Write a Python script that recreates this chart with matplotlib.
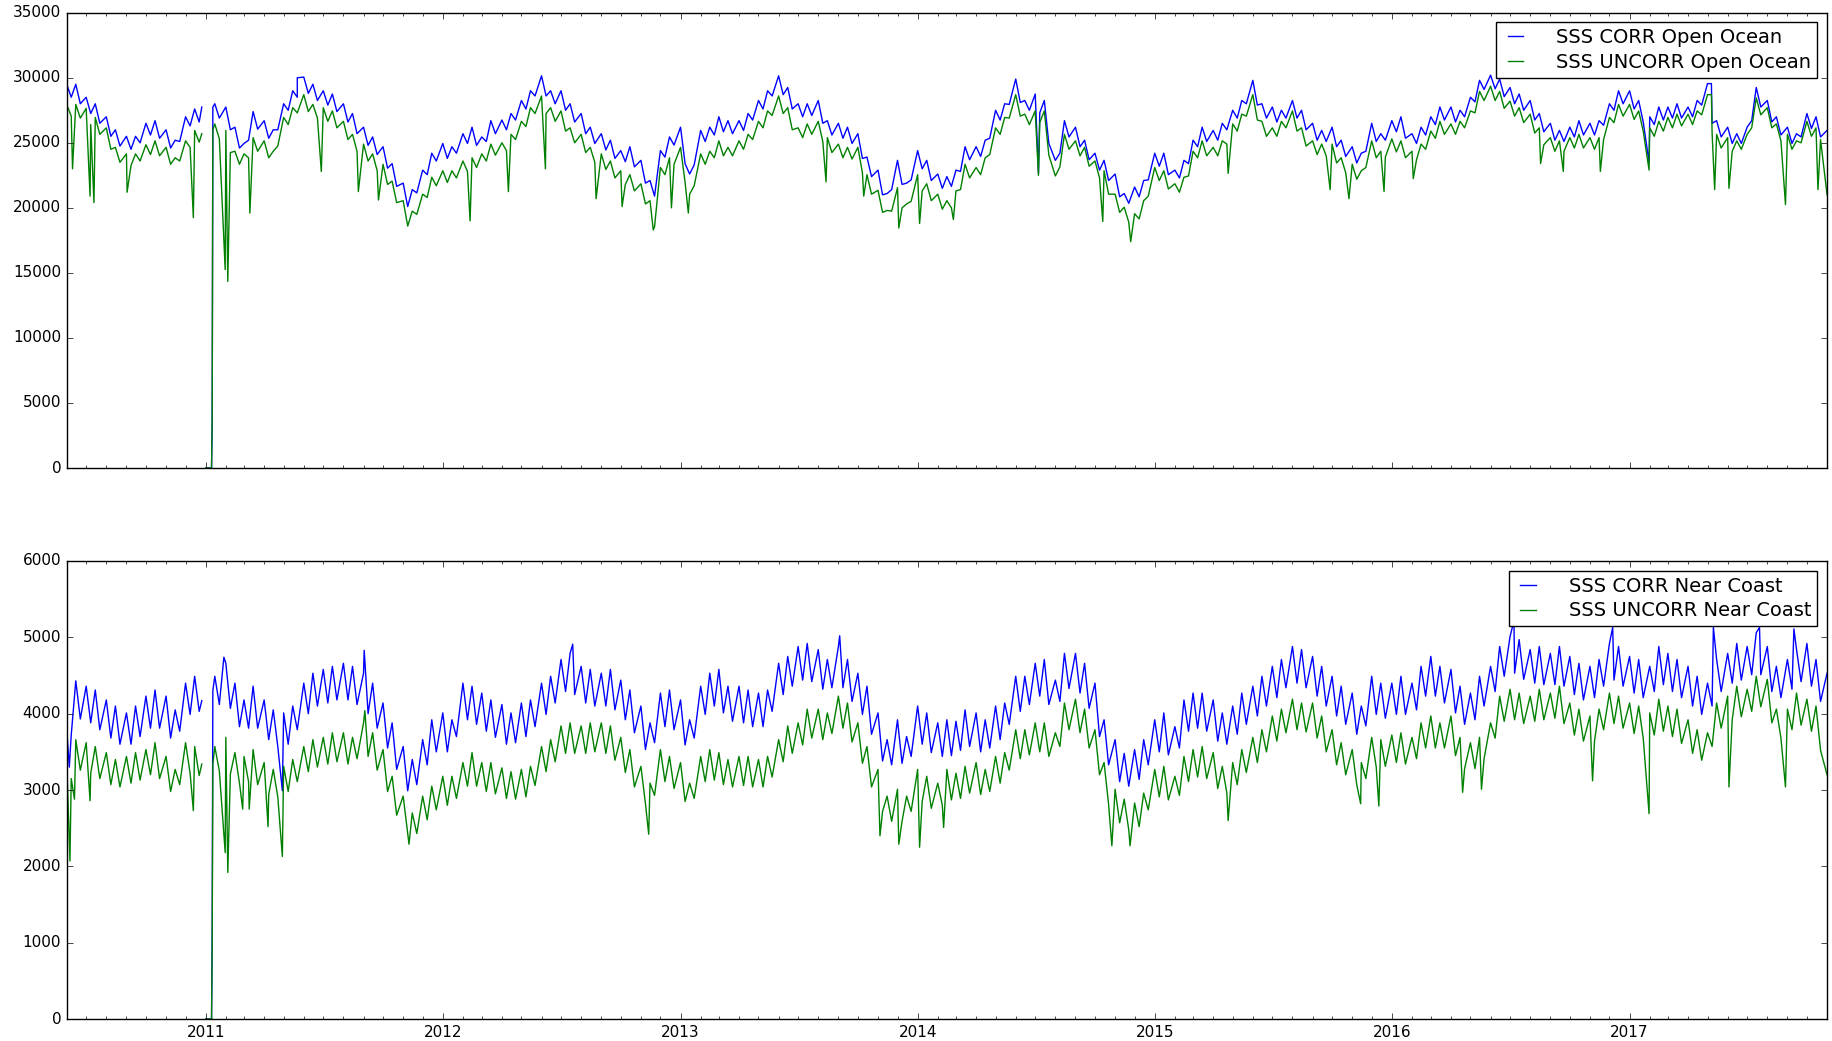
"""SSS corrected vs uncorrected counts, open ocean and near coast.

Values are read by eye off the original figure. The daily noise is carried
by alternating readings: top of the band on the 1st / 15th of each month,
bottom of the band on the 8th / 22nd, plus the isolated spikes and dropouts
listed separately.
"""

import matplotlib
matplotlib.use("Agg")
import matplotlib.dates as mdates
import matplotlib.pyplot as plt
import numpy as np
import pandas as pd

plt.style.use("classic")

NaN = np.nan
START = "2010-06-01"

# ---- open ocean, CORR ---------------------------------------------------
ocean_corr_hi = [
    29500, 29500, 28500, 28000, 27000, 26000, 25500, 25500, 26500, 26700,
    26000, 25200, 27000, 27600,
    0, 28000, 27750, 26200, 24950, 27400, 26700, 26000, 28000, 29000, 30050,
    29500, 29000, 28750, 28000, 27250, 26200, 25450, 24700, 23400, 21900,
    21400, 22900, 24200,
    24950, 24700, 25700, 26200, 25450, 26700, 26750, 27250, 28250, 29000,
    30150, 29000, 29000, 28000, 27250, 26200, 25700, 25200, 24400, 24700,
    23650, 22100, 24400, 25450,
    26200, 22600, 25950, 26200, 27000, 26700, 26700, 27250, 28250, 29000,
    30150, 29250, 28000, 28000, 28250, 26700, 26500, 26200, 25700, 23900,
    22900, 21100, 23650, 21900,
    24400, 23650, 22600, 22400, 22900, 24700, 24700, 25200, 27500, 28000,
    29900, 28250, 28750, 28250, 23650, 26700, 26200, 25200, 24200, 23650,
    22600, 21100, 21600, 22100,
    24200, 24200, 22900, 23650, 25200, 26200, 25950, 26500, 27500, 28250,
    29800, 28000, 27750, 27500, 28250, 27500, 26500, 25950, 26200, 25200,
    24700, 24200, 26500, 25700,
    26700, 27000, 25700, 26200, 27000, 27750, 27750, 27500, 28500, 29800,
    30200, 29900, 29250, 28750, 28250, 27250, 26500, 25950, 26200, 26700,
    26500, 26700, 28000, 29000,
    29000, 28250, 27000, 27750, 27750, 28000, 27750, 28250, 29550, 26700,
    26200, 25700, 26200, 29250, 28250, 27000, 26200, 25700, 27250, 27000,
    25950,
]
ocean_corr_lo = [
    28500, 28000, 27250, 26500, 25500, 24750, 24500, 25000, 25600, 25350,
    24600, 25100, 26300, 26600,
    0, 26900, 26000, 24600, 25200, 26050, 25350, 26000, 27500, 28500, 28800,
    28250, 27900, 27400, 26600, 25700, 24800, 24100, 23050, 21650, 20100,
    21150, 22550, 23600,
    23800, 24200, 24950, 24800, 25100, 25700, 26000, 26750, 27600, 28600,
    28600, 28000, 27500, 26600, 25700, 24950, 24450, 23800, 23550, 23150,
    21900, 20900, 23900, 24825,
    23400, 23300, 25100, 25600, 25850, 25700, 25950, 26750, 27600, 28600,
    28700, 27600, 27000, 27100, 26500, 25600, 25350, 24950, 23800, 22400,
    21000, 21400, 21800, 22150,
    23000, 22100, 21500, 21650, 22800, 23700, 23950, 25350, 26750, 27950,
    28100, 27500, 27300, 24950, 24200, 25450, 24700, 23700, 22900, 22100,
    20850, 20350, 20850, 22150,
    23200, 22550, 22300, 23400, 24700, 25100, 25200, 26000, 26900, 28000,
    27900, 26900, 26600, 26900, 26900, 26000, 25200, 25100, 24700, 23950,
    23450, 24350, 25100, 25200,
    25850, 25350, 24950, 25600, 26400, 26750, 26600, 27000, 28150, 29100,
    29150, 28550, 28000, 27500, 26750, 25850, 25200, 25100, 25450, 25600,
    25600, 26350, 27500, 28000,
    27600, 26600, 26400, 26750, 26900, 26900, 27000, 27900, 26500, 25450,
    24950, 24950, 26700, 27750, 26600, 25600, 24950, 25450, 26100, 25450,
]

# ---- open ocean, UNCORR -------------------------------------------------
ocean_uncorr_hi = [
    27950, 27950, 27650, 26950, 26150, 24650, 24150, 24150, 24850, 25150,
    24650, 23850, 25150, 25950,
    0, 26450, 25950, 24350, 24150, 25400, 25150, 24350, 26950, 27700, 28700,
    27950, 27700, 27450, 26650, 25650, 24900, 24150, 23350, 22050, 20550,
    19750, 21050, 22350,
    22850, 22850, 23600, 23850, 24150, 24900, 25000, 25650, 26650, 27700,
    28600, 27700, 27450, 26150, 25650, 24650, 24150, 23600, 22850, 22550,
    21850, 20550, 23100, 23850,
    24650, 21050, 24150, 24350, 25150, 24650, 25150, 25650, 26650, 27450,
    28600, 27700, 26150, 26450, 26650, 25400, 24900, 24650, 24650, 22550,
    21350, 19800, 21550, 20300,
    22550, 21850, 21050, 20550, 21300, 23350, 23100, 23850, 26150, 26950,
    28700, 27200, 27450, 27450, 22450, 25650, 25150, 24650, 23600, 22850,
    21050, 20050, 19550, 20550,
    23100, 22850, 21850, 22350, 24350, 25150, 24650, 25150, 26450, 27200,
    28700, 26650, 26150, 26650, 27450, 26150, 25150, 24900, 24900, 23850,
    23350, 22850, 25150, 24350,
    25300, 25150, 24350, 24900, 25900, 26650, 26450, 26650, 27450, 28950,
    29350, 28950, 28200, 27700, 27200, 26150, 25400, 25150, 25400, 25650,
    25400, 25400, 26950, 27950,
    27950, 27450, 26150, 26650, 26950, 27200, 27200, 27450, 28700, 25650,
    25400, 25150, 25650, 28450, 27700, 26450, 25650, 25150, 26650, 26150,
    21000,
]
ocean_uncorr_lo = [
    27050, 26900, 26400, 25650, 24500, 23500, 23250, 23600, 24100, 24000,
    23350, 23600, 24650, 25050,
    0, 25300, 24250, 23350, 23850, 24350, 23850, 24750, 26400, 27300, 27400,
    26900, 26650, 26150, 25250, 24350, 23600, 22850, 21800, 20400, 18600,
    19500, 20800, 21700,
    21950, 22300, 22800, 23100, 23600, 24050, 24400, 25250, 26250, 27250,
    27250, 26650, 25900, 25000, 24250, 23500, 22950, 22300, 21800, 21300,
    20300, 18550, 22550, 23350,
    21950, 21700, 23350, 23850, 24000, 24000, 24500, 25250, 26150, 27100,
    27250, 26000, 25400, 25650, 25100, 24250, 23850, 23750, 22700, 21050,
    19650, 19750, 20000, 20500,
    21300, 20550, 19900, 20000, 21400, 22300, 22550, 24100, 25650, 26900,
    27050, 26400, 26550, 24050, 23150, 24500, 24000, 23200, 22300, 21050,
    19650, 18900, 19150, 20900,
    22100, 21450, 21200, 22450, 23850, 24000, 24000, 24900, 25900, 27050,
    26750, 25500, 25500, 26150, 25900, 24750, 24100, 24000, 23450, 22700,
    22200, 23100, 23850, 23900,
    24300, 23850, 23700, 24500, 25350, 25650, 25650, 26150, 27300, 28250,
    28250, 27650, 27050, 26550, 25750, 24850, 24350, 24350, 24600, 24600,
    24500, 25250, 26550, 27050,
    26800, 25900, 25500, 25900, 26150, 26300, 26400, 27150, 25800, 24600,
    24350, 24500, 26150, 27150, 26150, 25150, 24500, 25000, 25500, 25250,
]

# ---- near coast, CORR ---------------------------------------------------
coast_corr_hi = [
    3800, 4430, 4360, 4310, 4180, 4100, 4010, 4100, 4230, 4310, 4230, 4050,
    4400, 4490,
    0, 4490, 4660, 4400, 4180, 4360, 4180, 4050, 4010, 4100, 4400, 4530,
    4580, 4620, 4660, 4620, 4530, 4400, 4140, 3880, 3570, 3400, 3660, 3920,
    4010, 3920, 4400, 4360, 4270, 4180, 4120, 4010, 4140, 4180, 4400, 4490,
    4710, 4790, 4620, 4580, 4530, 4580, 4440, 4310, 4100, 3880, 4270, 4310,
    4180, 3920, 4360, 4530, 4580, 4360, 4360, 4310, 4270, 4310, 4660, 4750,
    4880, 4920, 4840, 4710, 4880, 4710, 4530, 4360, 4010, 3660, 3920, 3700,
    4100, 4010, 3880, 3920, 3900, 4050, 4010, 3920, 4100, 4140, 4490, 4490,
    4660, 4710, 4440, 4790, 4790, 4660, 4400, 3920, 3660, 3480, 3530, 3660,
    3920, 4010, 3830, 4180, 4270, 4270, 4180, 4010, 4100, 4270, 4360, 4490,
    4620, 4710, 4880, 4840, 4750, 4620, 4490, 4360, 4270, 4100, 4490, 4400,
    4400, 4490, 4400, 4620, 4750, 4620, 4580, 4360, 4270, 4490, 4620, 4880,
    5010, 4970, 4840, 4880, 4790, 4880, 4750, 4660, 4620, 4710, 4920, 4880,
    4750, 4710, 4620, 4880, 4790, 4710, 4620, 4490, 4400, 4710, 4790, 4920,
    4880, 5060, 4880, 4620, 4710, 4840, 4920, 4710, 4530,
]
coast_corr_lo = [
    3720, 3930, 3880, 3790, 3680, 3600, 3600, 3700, 3810, 3810, 3680, 3770,
    3990, 4030,
    0, 4120, 4070, 3830, 3810, 3810, 3660, 3570, 3600, 3790, 4000, 4100,
    4140, 4180, 4180, 4120, 4000, 3810, 3550, 3270, 2990, 3070, 3330, 3500,
    3500, 3700, 3920, 3860, 3770, 3690, 3600, 3620, 3700, 3830, 3990, 4140,
    4290, 4250, 4140, 4100, 4100, 4050, 3920, 3750, 3530, 3620, 3830, 3790,
    3590, 3680, 3990, 4100, 4010, 3900, 3880, 3830, 3830, 4030, 4250, 4360,
    4440, 4420, 4320, 4340, 4340, 4160, 3990, 3730, 3380, 3330, 3350, 3440,
    3600, 3490, 3440, 3450, 3520, 3570, 3500, 3550, 3660, 3860, 4030, 4120,
    4230, 4120, 4160, 4330, 4270, 4070, 3700, 3330, 3110, 3050, 3140, 3330,
    3500, 3460, 3550, 3770, 3810, 3770, 3640, 3600, 3730, 3860, 3970, 4100,
    4210, 4340, 4400, 4340, 4230, 4100, 3970, 3860, 3730, 3840, 3990, 3940,
    3990, 3990, 4050, 4230, 4230, 4140, 4010, 3860, 3920, 4100, 4290, 4490,
    4530, 4450, 4400, 4380, 4380, 4360, 4250, 4180, 4210, 4360, 4440, 4360,
    4270, 4210, 4290, 4380, 4290, 4210, 4100, 3990, 4100, 4290, 4400, 4440,
    4510, 4510, 4290, 4210, 4320, 4420, 4360, 4160,
]

# ---- near coast, UNCORR -------------------------------------------------
coast_uncorr_hi = [
    3390, 3660, 3620, 3570, 3490, 3400, 3440, 3490, 3530, 3620, 3440, 3270,
    3620, 3570,
    0, 3570, 3690, 3490, 3440, 3530, 3360, 3270, 3310, 3400, 3570, 3660,
    3690, 3750, 3750, 3690, 3880, 3750, 3530, 3180, 2920, 2700, 2920, 3050,
    3180, 3180, 3360, 3490, 3360, 3360, 3290, 3240, 3270, 3310, 3570, 3660,
    3840, 3880, 3840, 3880, 3880, 3840, 3690, 3530, 3310, 3090, 3530, 3440,
    3360, 3090, 3440, 3530, 3490, 3400, 3440, 3440, 3400, 3440, 3660, 3840,
    3880, 4060, 4060, 4010, 4230, 4140, 3880, 3570, 3270, 2920, 3010, 2920,
    3270, 3180, 3090, 3270, 3220, 3310, 3360, 3270, 3440, 3490, 3790, 3790,
    3880, 3880, 3750, 4140, 4190, 4060, 3790, 3360, 3010, 2880, 2830, 2960,
    3270, 3310, 3180, 3440, 3530, 3570, 3490, 3310, 3360, 3530, 3690, 3790,
    3970, 4060, 4190, 4140, 4140, 3970, 3790, 3620, 3530, 3360, 3690, 3660,
    3720, 3750, 3690, 3880, 3970, 3880, 3970, 3690, 3620, 3690, 3880, 4230,
    4320, 4270, 4230, 4320, 4270, 4360, 4140, 4060, 3970, 4060, 4270, 4230,
    4140, 4100, 4010, 4190, 4100, 4060, 3920, 3790, 3750, 4140, 4230, 4360,
    4320, 4490, 4450, 4060, 4060, 4270, 4190, 4100, 3200,
]
coast_uncorr_lo = [
    3150, 3260, 3220, 3150, 3070, 3040, 3090, 3130, 3200, 3150, 2980, 3070,
    3220, 3190,
    0, 3250, 3210, 3090, 3110, 3070, 2940, 2910, 2980, 3110, 3240, 3300,
    3340, 3370, 3340, 3410, 3440, 3260, 2980, 2670, 2430, 2430, 2610, 2740,
    2800, 2890, 3050, 3050, 2980, 2950, 2890, 2880, 2910, 3060, 3240, 3370,
    3480, 3480, 3480, 3500, 3480, 3390, 3230, 3040, 2820, 2930, 3110, 3020,
    2850, 2890, 3110, 3130, 3070, 3040, 3060, 3040, 3040, 3170, 3370, 3480,
    3590, 3680, 3660, 3740, 3810, 3630, 3350, 3040, 2720, 2590, 2590, 2720,
    2850, 2760, 2800, 2870, 2890, 2960, 2940, 2980, 3090, 3260, 3410, 3460,
    3500, 3440, 3570, 3790, 3750, 3550, 3200, 2810, 2570, 2480, 2520, 2740,
    2910, 2870, 2930, 3110, 3170, 3150, 3020, 2960, 3070, 3230, 3360, 3500,
    3640, 3750, 3790, 3760, 3680, 3500, 3330, 3200, 3070, 3150, 3300, 3310,
    3360, 3340, 3410, 3550, 3550, 3550, 3450, 3280, 3280, 3410, 3680, 3900,
    3920, 3870, 3900, 3920, 3940, 3870, 3720, 3640, 3640, 3790, 3870, 3810,
    3740, 3680, 3720, 3770, 3700, 3610, 3480, 3390, 3570, 3810, 3920, 3960,
    4030, 4090, 3880, 3680, 3790, 3850, 3770, 3520,
]

# ---- single-day events: gap + zeros early Jan 2011, spikes --------------
ocean_corr_extra = [
    ("2010-12-26", 27750), ("2010-12-28", NaN), ("2011-01-10", 0),
    ("2011-01-11", 3500), ("2011-01-12", 27750), ("2011-05-22", 30000),
    ("2014-07-06", 22650), ("2017-01-31", 23500), ("2017-05-07", 29550),
]
ocean_uncorr_extra = [
    ("2010-12-26", 25700), ("2010-12-28", NaN), ("2011-01-10", 0),
    ("2011-01-11", 4000), ("2011-01-12", 26000),
    ("2010-06-10", 23000), ("2010-07-07", 20900), ("2010-07-13", 20400),
    ("2010-09-02", 21200), ("2010-12-13", 19250), ("2011-01-31", 15250),
    ("2011-02-04", 14350), ("2011-03-10", 19600), ("2011-06-28", 22800),
    ("2011-08-24", 21250), ("2011-09-24", 20600), ("2012-02-12", 19000),
    ("2012-04-11", 21250), ("2012-06-07", 23000), ("2012-08-24", 20700),
    ("2012-10-03", 20100), ("2012-11-20", 18300), ("2012-12-18", 20000),
    ("2013-01-13", 19600), ("2013-08-13", 22000), ("2013-10-10", 20900),
    ("2013-12-03", 18450), ("2014-01-04", 18800), ("2014-02-25", 19100),
    ("2014-07-06", 22500), ("2014-10-13", 18950), ("2014-11-25", 17400),
    ("2015-04-24", 22650), ("2015-09-28", 21400), ("2015-10-27", 20700),
    ("2015-12-20", 21250), ("2016-02-03", 22250), ("2016-08-17", 23400),
    ("2016-09-21", 22800), ("2016-11-17", 22800), ("2017-01-31", 22900),
    ("2017-05-07", 28700), ("2017-05-12", 21400), ("2017-06-03", 21500),
    ("2017-08-29", 20250), ("2017-10-18", 21400),
]
coast_corr_extra = [
    ("2010-12-26", 4170), ("2010-12-28", NaN), ("2011-01-10", 0),
    ("2011-01-11", 1110), ("2011-01-12", 4300),
    ("2010-06-05", 3300), ("2011-01-29", 4740), ("2011-04-29", 2990),
    ("2011-09-02", 4830), ("2012-07-19", 4910), ("2013-09-03", 5020),
    ("2016-07-07", 5220), ("2016-12-06", 5130), ("2017-05-10", 5130),
    ("2017-07-20", 5130), ("2017-09-11", 5110),
]
coast_uncorr_extra = [
    ("2010-12-26", 3340), ("2010-12-28", NaN), ("2011-01-10", 0),
    ("2011-01-11", 990), ("2011-01-12", 3340),
    ("2010-06-06", 2070), ("2010-06-13", 2880), ("2010-07-07", 2860),
    ("2010-12-13", 2730), ("2011-01-31", 2180), ("2011-02-04", 1920),
    ("2011-02-27", 2750), ("2011-03-09", 2750), ("2011-04-07", 2520),
    ("2011-04-29", 2130), ("2011-09-03", 4040), ("2011-11-10", 2290),
    ("2012-11-13", 2420), ("2013-11-04", 2400), ("2013-12-03", 2290),
    ("2014-01-04", 2250), ("2014-02-10", 2510), ("2014-10-27", 2270),
    ("2014-11-24", 2270), ("2015-04-24", 2600), ("2015-11-14", 2820),
    ("2015-12-12", 2790), ("2016-04-19", 2970), ("2016-05-18", 3010),
    ("2016-11-05", 3120), ("2017-01-31", 2690), ("2017-06-03", 3040),
    ("2017-08-29", 3040),
]


def build(hi, lo, extra):
    """Interleave band-top (1st/15th) and band-bottom (8th/22nd) readings
    with the single-day events, sorted by date."""
    hi_idx = pd.date_range(START, periods=len(hi), freq="SMS")
    lo_idx = pd.date_range(START, periods=len(lo), freq="SMS") + pd.Timedelta(days=7)
    ev_idx = pd.to_datetime([d for d, _ in extra])
    parts = [
        pd.Series(hi, index=hi_idx, dtype=float),
        pd.Series(lo, index=lo_idx, dtype=float),
        pd.Series([v for _, v in extra], index=ev_idx, dtype=float),
    ]
    return pd.concat(parts).sort_index(kind="stable")


def style_axis(ax, ymax, ystep):
    ax.set_ylim(0, ymax)
    ax.set_yticks(np.arange(0, ymax + 1, ystep))
    ax.xaxis.set_major_locator(mdates.YearLocator())
    ax.xaxis.set_major_formatter(mdates.DateFormatter("%Y"))
    ax.xaxis.set_minor_locator(mdates.MonthLocator())
    ax.tick_params(labelsize=11)
    ax.legend(loc="upper right", fontsize=14, handlelength=1.4,
              handletextpad=1.4, borderpad=0.3, labelspacing=0.3)


fig = plt.figure(figsize=(18.32, 10.41), dpi=100)
ax1 = fig.add_axes([0.0364, 0.5504, 0.9609, 0.4374])
ax2 = fig.add_axes([0.0364, 0.0211, 0.9609, 0.4400], sharex=ax1)

ax1.plot(build(ocean_corr_hi, ocean_corr_lo, ocean_corr_extra),
         color="b", lw=1.0, label="SSS CORR Open Ocean")
ax1.plot(build(ocean_uncorr_hi, ocean_uncorr_lo, ocean_uncorr_extra),
         color="g", lw=1.0, label="SSS UNCORR Open Ocean")
ax2.plot(build(coast_corr_hi, coast_corr_lo, coast_corr_extra),
         color="b", lw=1.0, label="SSS CORR Near Coast")
ax2.plot(build(coast_uncorr_hi, coast_uncorr_lo, coast_uncorr_extra),
         color="g", lw=1.0, label="SSS UNCORR Near Coast")

style_axis(ax1, 35000, 5000)
style_axis(ax2, 6000, 1000)
ax1.tick_params(labelbottom=False)
ax1.set_xlim(pd.Timestamp("2010-06-01"), pd.Timestamp("2017-11-01"))

fig.savefig("out.png", dpi=100)
